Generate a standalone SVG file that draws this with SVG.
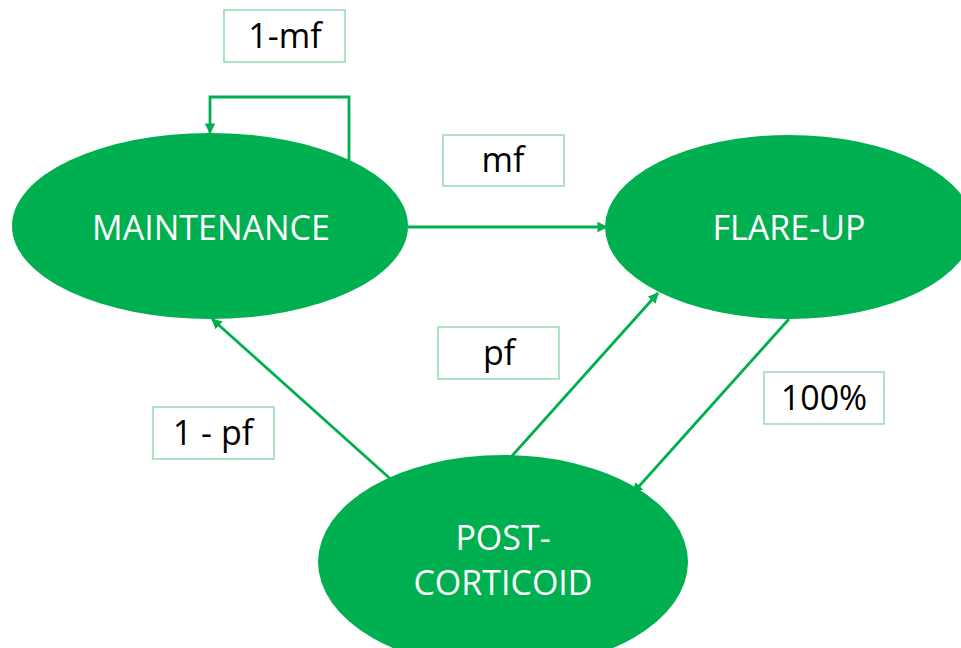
<svg xmlns="http://www.w3.org/2000/svg" width="961" height="648" viewBox="0 0 961 648">
<style>
.node{fill:#00b050;}
.ntext{fill:#ffffff;font-family:"Open Sans","Liberation Sans",sans-serif;font-size:34px;text-anchor:middle;}
.lbox{fill:#ffffff;stroke:#92dcae;stroke-width:1.5;}
.ltext{fill:#000000;font-family:"Open Sans","Liberation Sans",sans-serif;font-size:34px;text-anchor:middle;}
.conn{fill:none;stroke:#00b050;stroke-width:2.8;marker-end:url(#arr);}
</style>
<defs>
<marker id="arr" viewBox="0 0 10 10" refX="9" refY="5" markerWidth="3.8" markerHeight="3.8" orient="auto" markerUnits="strokeWidth">
<path d="M0,0 L10,5 L0,10 Z" fill="#00b050"/>
</marker>
</defs>
<rect width="961" height="648" fill="#ffffff"/>
<g id="node-maintenance">
<ellipse class="node" cx="210" cy="226" rx="198" ry="93"/>
<text class="ntext" x="211" y="240">MAINTENANCE</text>
</g>
<g id="node-flareup">
<ellipse class="node" cx="789" cy="227" rx="184" ry="92"/>
<text class="ntext" x="789" y="240">FLARE-UP</text>
</g>
<g id="node-postcorticoid">
<ellipse class="node" cx="503" cy="562" rx="185" ry="107"/>
<text class="ntext" x="503" y="550">POST-</text>
<text class="ntext" x="503" y="595">CORTICOID</text>
</g>
<g id="connectors">
<path class="conn" d="M349,160 V97 H210 V133"/>
<path class="conn" d="M408,227 H607"/>
<path class="conn" d="M502,467 L658,293"/>
<path class="conn" d="M789,319 L633,493"/>
<path class="conn" d="M395,483 L212,319"/>
</g>
<g id="label-1mf">
<rect class="lbox" x="224" y="10" width="121" height="52"/>
<text class="ltext" x="285" y="48">1-mf</text>
</g>
<g id="label-mf">
<rect class="lbox" x="443" y="135" width="121" height="51"/>
<text class="ltext" x="503" y="172">mf</text>
</g>
<g id="label-pf">
<rect class="lbox" x="438" y="327" width="121" height="52"/>
<text class="ltext" x="499" y="365">pf</text>
</g>
<g id="label-100">
<rect class="lbox" x="764" y="372" width="120" height="52"/>
<text class="ltext" x="824" y="410">100%</text>
</g>
<g id="label-1pf">
<rect class="lbox" x="153" y="407" width="121" height="52"/>
<text class="ltext" x="213" y="445">1 - pf</text>
</g>
</svg>
